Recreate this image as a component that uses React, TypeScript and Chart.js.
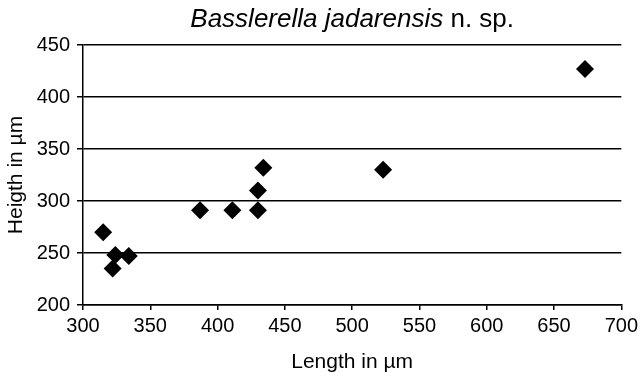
import React, { useEffect, useRef } from "react";
import { Chart, registerables } from "chart.js";

Chart.register(...registerables);

const lengths = [315, 322, 324, 334, 387, 411, 430, 430, 434, 523, 673];
const heights = [270, 235, 248, 247, 291, 291, 291, 310, 332, 330, 427];

const titleItalic = "Basslerella jadarensis";
const titleNormal = " n. sp.";
const xTitle = "Length in µm";
const yTitle = "Heigth in µm";

const FONT = "'Liberation Sans', Arial, sans-serif";

const titlePlugin = {
  id: "mixedTitle",
  afterDraw(chart: any) {
    const ctx = chart.ctx;
    ctx.save();
    ctx.fillStyle = "#000";
    ctx.textBaseline = "alphabetic";
    ctx.font = `italic 26px ${FONT}`;
    const w1 = ctx.measureText(titleItalic).width;
    ctx.font = `26px ${FONT}`;
    const w2 = ctx.measureText(titleNormal).width;
    const cx = (chart.chartArea.left + chart.chartArea.right) / 2;
    const x0 = cx - (w1 + w2) / 2;
    const y = 27;
    ctx.font = `italic 26px ${FONT}`;
    ctx.textAlign = "left";
    ctx.fillText(titleItalic, x0, y);
    ctx.font = `26px ${FONT}`;
    ctx.fillText(titleNormal, x0 + w1, y);
    ctx.restore();
  },
};

export default function App() {
  const ref = useRef<HTMLCanvasElement>(null);
  useEffect(() => {
    if (!ref.current) return;
    const data = lengths.map((x, i) => ({ x, y: heights[i] }));
    const chart = new Chart(ref.current, {
      type: "scatter",
      data: {
        datasets: [
          {
            data,
            pointStyle: "rectRot",
            pointRadius: 9,
            pointHoverRadius: 9,
            backgroundColor: "#000",
            borderColor: "#000",
            borderWidth: 0,
          },
        ],
      },
      options: {
        animation: false,
        responsive: false,
        maintainAspectRatio: false,
        layout: { padding: { top: 45, right: 18, left: 0, bottom: 0 } },
        plugins: {
          legend: { display: false },
          tooltip: { enabled: false },
        },
        scales: {
          x: {
            type: "linear",
            min: 300,
            max: 700,
            ticks: {
              stepSize: 50,
              color: "#000",
              font: { family: FONT, size: 20 },
              padding: 4,
            },
            grid: {
              display: true,
              drawOnChartArea: false,
              drawTicks: true,
              tickLength: 5,
              color: "#000",
              lineWidth: 1.5,
            },
            border: { display: true, color: "#000", width: 1.5 },
            title: {
              display: true,
              text: xTitle,
              color: "#000",
              font: { family: FONT, size: 21 },
              padding: { top: 4, bottom: 5 },
            },
            afterFit(scale: any) {
              scale.height = 75;
            },
          },
          y: {
            type: "linear",
            min: 200,
            max: 450,
            ticks: {
              stepSize: 50,
              color: "#000",
              font: { family: FONT, size: 20 },
              padding: 7,
            },
            grid: {
              display: true,
              drawOnChartArea: true,
              drawTicks: true,
              tickLength: 6,
              color: "#000",
              lineWidth: 1.5,
            },
            border: { display: true, color: "#000", width: 1.5 },
            title: {
              display: true,
              text: yTitle,
              color: "#000",
              font: { family: FONT, size: 21 },
              padding: { top: 4, bottom: 2 },
            },
            afterFit(scale: any) {
              scale.width = 83;
            },
          },
        },
      },
      plugins: [titlePlugin],
    });
    return () => chart.destroy();
  }, []);
  return (
    <div style={{ position: "fixed", left: 0, top: 0, width: 642, height: 380, background: "#fff" }}>
      <canvas ref={ref} width={642} height={380} style={{ width: 642, height: 380 }} />
    </div>
  );
}
